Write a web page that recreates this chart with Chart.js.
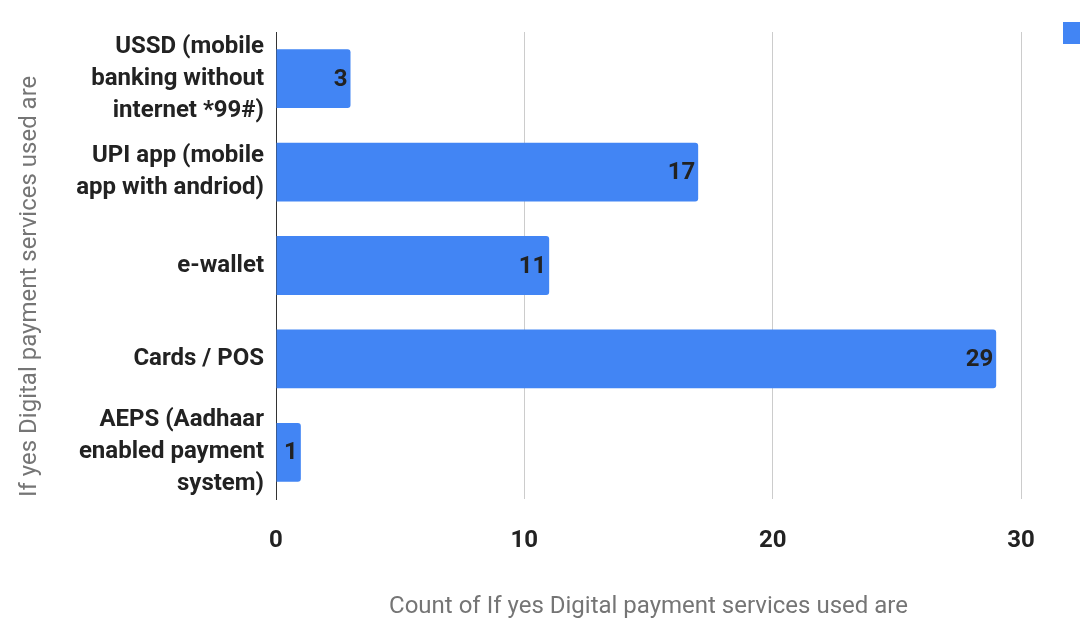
<!DOCTYPE html>
<html>
<head>
<meta charset="utf-8">
<script src="https://cdn.jsdelivr.net/npm/chart.js@4"></script>
<style>
  html, body { margin: 0; padding: 0; background: #fff; overflow: hidden; }
  #wrap { width: 1321px; height: 619px; }
</style>
</head>
<body>
<div id="wrap"><canvas id="barChart" width="1321" height="619"></canvas></div>
<script>
const categories = [
    ['USSD (mobile', 'banking without', 'internet *99#)'],
    ['UPI app (mobile', 'app with andriod)'],
    'e-wallet',
    'Cards / POS',
    ['AEPS (Aadhaar', 'enabled payment', 'system)']
];
const counts = [3, 17, 11, 29, 1];
const seriesName = 'Count of If yes Digital payment services used are';
const xTicks = [0, 10, 20, 30];
const yTitle = 'If yes Digital payment services used are';

const barColor = '#4285f4';

// value labels drawn inside the end of each bar
const barLabels = {
    id: 'barLabels',
    afterDatasetsDraw(chart) {
        const ctx = chart.ctx;
        const meta = chart.getDatasetMeta(0);
        ctx.save();
        ctx.font = 'bold 24px Roboto';
        ctx.fillStyle = '#222';
        ctx.textAlign = 'right';
        ctx.textBaseline = 'middle';
        meta.data.forEach((bar, i) => {
            ctx.fillText(String(counts[i]), bar.x - 3, bar.y + 1);
        });
        ctx.restore();
    }
};

// the legend sits just right of the plot, cut by the window edge
const legendPlace = {
    id: 'legendPlace',
    afterLayout(chart) {
        const lg = chart.legend;
        const w = lg.width;
        lg.left = chart.chartArea.right + 20;
        lg.right = lg.left + w;
        lg.top = 0;
    }
};

new Chart(document.getElementById('barChart'), {
    type: 'bar',
    data: {
        labels: categories,
        datasets: [{
            label: seriesName,
            data: counts,
            backgroundColor: barColor,
            borderRadius: 3,
            borderSkipped: 'start',
            barPercentage: 0.63,
            categoryPercentage: 1
        }]
    },
    options: {
        indexAxis: 'y',
        responsive: false,
        animation: false,
        layout: { padding: { top: 32, left: 0, right: 0, bottom: 0 } },
        plugins: {
            legend: {
                position: 'right',
                align: 'start',
                maxWidth: 300,
                labels: {
                    boxWidth: 22,
                    boxHeight: 22,
                    padding: 22,
                    color: '#222',
                    font: { family: 'Roboto', size: 18 }
                }
            },
            tooltip: { enabled: false }
        },
        scales: {
            x: {
                min: 0,
                max: 30,
                afterBuildTicks(scale) {
                    scale.ticks = xTicks.map(v => ({ value: v }));
                },
                grid: {
                    drawTicks: false,
                    color: ctx => (ctx.tick && ctx.tick.value === 0 ? '#333' : '#ccc')
                },
                border: { display: false },
                ticks: {
                    padding: 27.6,
                    color: '#222',
                    font: { family: 'Roboto', size: 24, weight: 'bold' }
                },
                title: {
                    display: true,
                    text: seriesName,
                    color: '#757575',
                    padding: { top: 12, bottom: 0 },
                    font: { family: 'Roboto', size: 24, lineHeight: 1 }
                }
            },
            y: {
                afterFit(scale) {
                    scale.width = 276;
                    scale.paddingTop = 0;
                    scale.paddingBottom = 0;
                },
                grid: { display: false, drawTicks: false },
                border: { display: true, color: '#333', width: 1 },
                ticks: {
                    autoSkip: false,
                    padding: 12,
                    color: '#222',
                    font: { family: 'Roboto', size: 24, weight: 'bold', lineHeight: 1.33 }
                },
                title: {
                    display: true,
                    // trailing spaces nudge the rotated title down, as in the original
                    text: yTitle + '\u00a0'.repeat(7),
                    color: '#757575',
                    padding: { top: 18, bottom: 0 },
                    font: { family: 'Roboto', size: 24, lineHeight: 1 }
                }
            }
        }
    },
    plugins: [barLabels, legendPlace]
});
</script>
</body>
</html>
